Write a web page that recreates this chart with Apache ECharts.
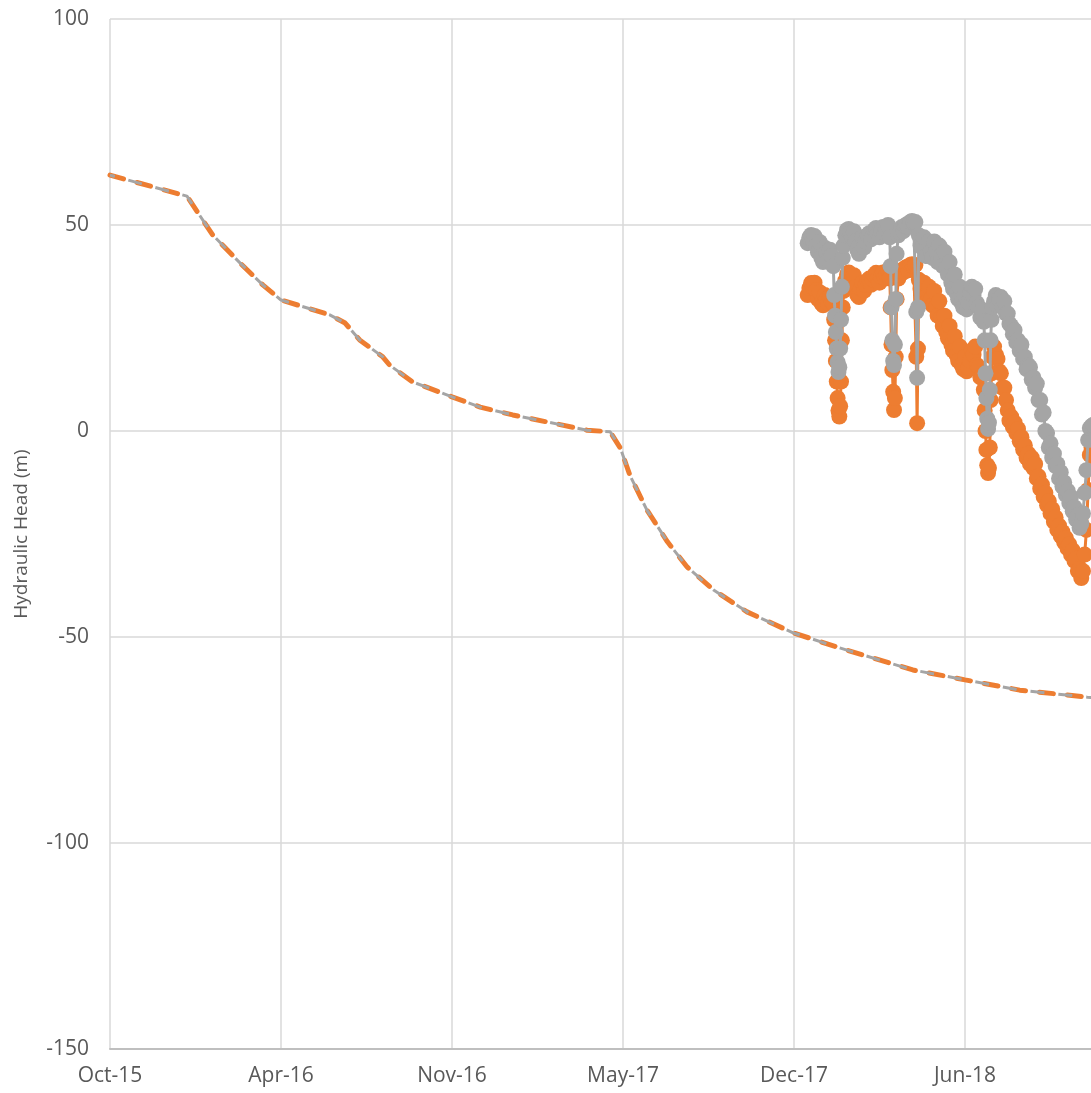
<!DOCTYPE html>
<html>
<head>
<meta charset="utf-8">
<script src="https://cdn.jsdelivr.net/npm/echarts@6/dist/echarts.min.js"></script>
<style>
html,body{margin:0;padding:0;overflow:hidden;background:#fff;}
#chart{width:1200px;height:1093px;}
</style>
</head>
<body>
<div id="chart"></div>
<script>
// x values are days since START_DATE (1 Oct 2015)
const START_DATE = Date.UTC(2015, 9, 1);
const MONTHS = ['Jan','Feb','Mar','Apr','May','Jun','Jul','Aug','Sep','Oct','Nov','Dec'];

// Modelled head (dashed line)
const modelDays = [0,90,120,152,179,200,257,275,292,319,327,354,400,433,471,511,558,585,597,608,628,652,675,706,745,799,862,939,1000,1064,1143,1160];
const modelHead = [62.1,57.0,47.6,40.8,35.4,31.8,28.2,26.2,22.1,18.0,16.0,11.9,8.3,5.8,3.9,2.2,0.2,-0.2,-4.2,-10.7,-19.2,-26.9,-33.0,-38.6,-43.9,-49.0,-53.2,-58.0,-60.4,-62.9,-64.6,-64.9];

// Observed heads (markers), days since START_DATE
const obsDays = [
  816,818,820,822,824,826,828,830,832,834,836,838,840,842,844,846,
  847,848,849,850,851,852,853,854,855,856,857,
  858,860,862,864,866,868,870,872,874,876,878,880,882,884,886,888,890,892,894,896,898,900,902,904,906,908,910,912,
  913,914,915,916,917,918,919,920,
  922,924,926,928,930,932,934,936,938,940,942,
  943,944,945,
  946,948,950,952,954,956,958,960,962,964,966,968,970,972,974,976,978,980,982,984,986,988,990,992,994,996,998,1000,1002,1004,1006,1008,1010,1012,1014,1016,1018,1020,1022,
  1023,1024,1025,1026,1027,1028,1029,1030,1031,
  1032,1034,1036,1038,1040,1042,1044,1046,1048,1050,1052,1054,1056,1058,1060,1062,1064,1066,1068,1070,1072,1074,1076,1078,1080,1082,1084,1086,1088,1090,1092,1094,1096,1098,1100,1102,1104,1106,1108,1110,1112,1114,1116,1118,1120,1122,1124,1126,1128,1130,1132,1134,1136,1138,1140,1142,1144,1146,1148,1150
];
// upper (grey) observations
const headUpper = [
  45.6,47.0,47.6,46.2,47.3,45.0,43.4,45.9,42.0,41.0,44.5,43.2,41.5,44.0,42.5,40.0,
  33,28,24,20,16.7,14.3,15.5,20,27,35,42,
  45,47.5,48.8,49,48.2,47,48.5,46,44,43,45.5,47,44.5,46,47.5,48,46.5,47.5,48.8,49.3,48,47,48.5,49.5,48,49,50,47,
  40,30,22,17,16,21,32,43,
  47.5,48.3,49.5,48.5,49.8,50.2,49.5,50.7,51,50.5,50.7,
  28.9,12.9,30,
  47.5,45,44.5,47,42.5,42.5,46,43.5,42,46,43.5,41,45,42.5,40,43.5,39.5,38,41,36,34.5,38,33.5,32,35,31,30,33,29.5,31.3,33.5,35,33,34.5,31,30,27.5,29.4,26.5,
  22,14,8,3,0.5,2,10,22,27,
  30,31.5,33,30.5,32,32.5,30,31.5,28.5,28.5,26,25.5,23.5,24.5,21.5,22,19.5,21,17.5,18,15,16,15.5,12.5,13,10.5,11.5,7.5,7.5,4,4.5,0,-0.5,-4,-3,-6.5,-5.5,-8.5,-8,-11.5,-10,-13.5,-12.5,-15.5,-14.5,-17.5,-16,-19.5,-18.5,-21.5,-20.5,-23.5,-22.5,-20,-15,-9.5,-2.2,0.7,1.2,1.5
];
// lower (orange) observations
const headLower = [
  33.0,34.7,35.9,35.0,36.0,34.2,32.0,33.7,31.0,30.5,33.0,32.0,31.0,32.5,31.3,31.0,
  27,22,17,12,8,5,3.5,6,12,22,30,
  34,36.5,38,38.5,37.5,36,37.8,35,33,32.5,34.5,36,34,35.5,36.5,37,35.5,36.8,37.8,38.4,37,36,37.5,38.5,37.2,38,39,37,
  30,21,14.8,9.5,5.1,8,18,32,
  37,37.9,39,38.5,39.6,39.8,39,40.3,40.5,40,40.3,
  18,1.9,20,
  36.7,34.5,34,36,32.5,31.5,35,32,30.5,34,30,28,31.5,27.5,25.5,28,24,22.5,25.5,21,19.5,23,18.5,17,20.5,16,15,18,14.5,15.3,17,19.5,18.5,20.5,16,15.5,13,13.5,10,
  5,0,-4.6,-8.3,-10.2,-9,-4,7.5,14,
  18,20.5,18.5,17.5,14.5,14,10.5,10.5,7.5,5,2.5,3.5,1,2,-0.5,0.5,-2.5,-1.5,-4.5,-3.5,-6.5,-5.5,-8,-6.5,-9,-8,-11.5,-11,-14,-13,-16,-15,-18,-17,-20,-19,-22,-21,-24,-23,-25.5,-24.5,-27,-26,-28.5,-27.5,-30,-29,-31.5,-31,-34,-33.5,-35.7,-34,-30,-24,-14.3,-5.8,-4,-3.4
];

const Y_TITLE = 'Hydraulic Head (m)';

const zip = (xs, ys) => xs.map((x, i) => [x, ys[i]]);
const fmtDay = d => {
  const dt = new Date(START_DATE + d * 86400000);
  return MONTHS[dt.getUTCMonth()] + '-' + String(dt.getUTCFullYear()).slice(2);
};

const ORANGE = '#ED7D31', GRAY = '#A5A5A5', TXT = '#595959', GRID = '#D9D9D9';
const FONT = "'Open Sans', 'Noto Sans', sans-serif";

const chart = echarts.init(document.getElementById('chart'), null, {renderer: 'canvas'});
chart.setOption({
  animation: false,
  backgroundColor: '#fff',
  grid: {left: 110, top: 19, bottom: 44, right: 64, containLabel: false},
  xAxis: {
    type: 'value', min: 0, max: 1200, interval: 200,
    axisLine: {show: true, onZero: false, lineStyle: {color: '#BFBFBF', width: 2}},
    axisTick: {show: false},
    splitLine: {show: true, lineStyle: {color: GRID, width: 1.5}},
    axisLabel: {formatter: v => fmtDay(v), color: TXT, fontSize: 21, fontFamily: FONT, margin: 17}
  },
  yAxis: {
    type: 'value', min: -150, max: 100, interval: 50,
    name: Y_TITLE, nameLocation: 'middle', nameRotate: 90, nameGap: 79,
    nameTextStyle: {color: TXT, fontSize: 19, fontFamily: FONT},
    axisLine: {show: false}, axisTick: {show: false},
    splitLine: {show: true, lineStyle: {color: GRID, width: 1.5}},
    axisLabel: {color: TXT, fontSize: 21, fontFamily: FONT, margin: 21}
  },
  series: [
    {type: 'line', data: zip(modelDays, modelHead), showSymbol: false, symbol: 'none',
     lineStyle: {color: ORANGE, width: 5, type: [14, 14], cap: 'round'}, z: 2},
    {type: 'line', data: zip(modelDays, modelHead), showSymbol: false, symbol: 'none',
     lineStyle: {color: GRAY, width: 3, type: [14, 14], dashOffset: 9}, z: 3},
    {type: 'line', data: zip(obsDays, headLower), symbol: 'circle', symbolSize: 16,
     itemStyle: {color: ORANGE}, lineStyle: {color: ORANGE, width: 3}, z: 4},
    {type: 'line', data: zip(obsDays, headUpper), symbol: 'circle', symbolSize: 16,
     itemStyle: {color: GRAY}, lineStyle: {color: GRAY, width: 3}, z: 5}
  ]
});
</script>
</body>
</html>
